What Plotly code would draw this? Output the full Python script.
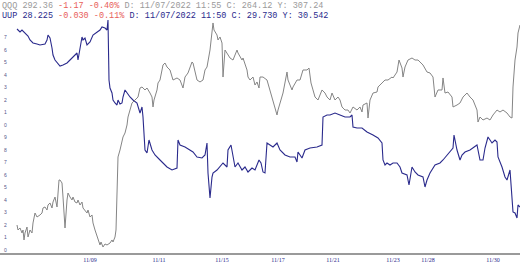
import plotly.graph_objects as go

# ---- data (bar index from 11/07 open, price) ----
uup_bar = [0, 3, 5, 8, 11, 13, 16, 20, 23, 28, 30, 31, 33, 35, 36, 38, 41, 43, 46, 50, 53, 56, 60, 61, 63, 65, 66, 68, 70, 73,
           76, 80, 83, 85, 88, 90, 91, 92, 93, 95, 96, 98, 100, 101, 103, 105, 106, 108, 110, 113, 116, 120, 123, 125, 126, 127,
           128, 130, 132, 135, 138, 143, 147, 150, 155, 160, 161, 163, 168, 173, 176, 180, 185, 188, 190, 191, 193, 195, 196, 200,
           203, 206, 210, 211, 214, 216, 218, 221, 225, 228, 231, 235, 238, 242, 244, 246, 248, 250, 253, 256, 260, 263, 268, 273,
           278, 280, 281, 285, 288, 293, 300, 305, 306, 310, 313, 318, 323, 328, 333, 335, 336, 340, 345, 350, 356, 361, 365, 366,
           368, 370, 373, 376, 380, 383, 385, 390, 392, 395, 398, 401, 406, 408, 410, 413, 418, 423, 426, 430, 433, 436, 437, 440,
           443, 445, 448, 453, 460, 463, 466, 468, 471, 475, 478, 480, 481, 485, 488, 490, 493, 495, 496, 498, 500, 501, 503]
uup_px = [29.768, 29.744, 29.760, 29.736, 29.712, 29.680, 29.656, 29.648, 29.640, 29.648, 29.680, 29.720, 29.696, 29.616,
          29.560, 29.520, 29.488, 29.472, 29.480, 29.496, 29.520, 29.544, 29.576, 29.520, 29.600, 29.704, 29.680, 29.696,
          29.640, 29.664, 29.720, 29.744, 29.760, 29.784, 29.776, 29.760, 29.840, 29.360, 29.296, 29.256, 29.200, 29.176,
          29.160, 29.200, 29.168, 29.176, 29.224, 29.280, 29.256, 29.224, 29.200, 29.176, 29.096, 29.144, 29.064, 28.880,
          28.800, 28.776, 28.880, 28.800, 28.760, 28.720, 28.688, 28.664, 28.640, 28.656, 28.880, 28.840, 28.824, 28.800,
          28.784, 28.744, 28.736, 28.760, 28.856, 28.616, 28.416, 28.584, 28.616, 28.640, 28.664, 28.696, 28.664, 28.800,
          28.840, 28.744, 28.664, 28.696, 28.640, 28.664, 28.624, 28.656, 28.640, 28.720, 28.696, 28.624, 28.616, 28.856,
          28.840, 28.824, 28.856, 28.800, 28.760, 28.744, 28.744, 28.704, 28.784, 28.736, 28.800, 28.816, 28.824, 28.840,
          29.064, 29.080, 29.080, 29.096, 29.080, 29.064, 29.064, 29.080, 28.984, 28.976, 28.976, 28.944, 28.920, 28.896,
          28.856, 28.720, 28.680, 28.696, 28.680, 28.696, 28.696, 28.664, 28.616, 28.600, 28.520, 28.664, 28.624, 28.600,
          28.584, 28.504, 28.560, 28.616, 28.680, 28.696, 28.720, 28.760, 28.784, 28.816, 28.920, 28.800, 28.720, 28.760,
          28.784, 28.800, 28.840, 28.720, 28.720, 28.816, 28.904, 28.856, 28.880, 28.864, 28.744, 28.664, 28.584, 28.560,
          28.640, 28.344, 28.304, 28.296, 28.256, 28.360, 28.344]

qqq_bar = [0, 1, 3, 5, 6, 7, 8, 10, 11, 13, 15, 16, 18, 20, 23, 25, 26, 28, 30, 31, 33, 35, 36, 38, 40, 41, 42, 43, 45, 46,
           48, 50, 51, 53, 55, 56, 58, 60, 61, 63, 65, 66, 68, 70, 71, 73, 75, 76, 78, 80, 81, 83, 84, 86, 88, 90, 93, 95, 96,
           98, 99, 100, 100.5, 101, 103, 105, 106, 108, 110, 111, 113, 115, 118, 121, 123, 125, 128, 130, 133, 135, 136, 137,
           140, 141, 143, 145, 146, 148, 150, 153, 155, 156, 160, 163, 166, 168, 171, 175, 176, 178, 180, 183, 186, 188, 190,
           193, 195, 196, 197, 200, 201, 203, 205, 206, 208, 210, 213, 216, 220, 221, 225, 226, 230, 231, 233, 236, 238, 240,
           242, 243, 246, 250, 253, 256, 260, 261, 263, 266, 270, 271, 275, 276, 280, 283, 286, 290, 292, 294, 296, 298, 301,
           305, 308, 310, 313, 315, 318, 321, 323, 325, 328, 331, 333, 336, 340, 343, 345, 346, 350, 351, 353, 356, 360, 361,
           365, 368, 371, 375, 376, 380, 382, 385, 386, 388, 391, 395, 398, 401, 406, 410, 413, 416, 418, 421, 425, 426, 428,
           431, 435, 436, 440, 443, 446, 450, 453, 456, 460, 461, 463, 466, 470, 473, 476, 480, 483, 486, 490, 493, 495, 496,
           498, 500, 501, 503]
qqq_px = [264.84, 264.15, 264.43, 263.74, 264.15, 262.78, 263.74, 264.56, 263.19, 264.15, 263.74, 265.12, 266.49, 265.94,
          266.22, 266.49, 267.18, 267.32, 266.90, 267.59, 267.87, 267.18, 268.00, 268.69, 267.32, 269.66, 271.03, 271.03,
          270.62, 268.69, 264.43, 268.28, 269.24, 268.69, 268.28, 268.69, 268.00, 267.87, 268.28, 267.59, 268.00, 267.18,
          266.90, 266.49, 266.90, 265.94, 266.22, 265.12, 264.15, 263.19, 262.78, 262.09, 262.50, 261.81, 262.23, 262.09,
          262.36, 262.78, 262.50, 263.19, 264.15, 269.66, 273.37, 274.20, 275.16, 276.54, 276.95, 277.50, 278.60, 279.70,
          280.66, 281.63, 282.04, 282.45, 283.69, 283.83, 283.42, 283.69, 283.00, 282.45, 281.08, 282.04, 283.42, 284.38,
          284.79, 286.17, 286.86, 287.13, 286.58, 286.17, 285.07, 284.79, 285.07, 284.79, 283.69, 285.20, 285.76, 287.27,
          287.13, 285.89, 284.79, 284.52, 284.79, 286.17, 286.58, 288.92, 291.26, 292.64, 291.67, 290.98, 290.30, 290.71,
          289.88, 285.20, 288.92, 288.51, 287.82, 287.54, 288.92, 288.51, 287.54, 287.82, 286.17, 285.20, 284.79, 285.20,
          284.10, 284.52, 283.69, 285.20, 285.20, 284.79, 283.42, 282.04, 279.98, 280.66, 281.63, 283.00, 285.89, 284.79,
          283.42, 283.83, 284.79, 284.79, 286.17, 286.17, 286.44, 284.38, 283.42, 282.45, 282.04, 283.42, 283.00, 282.45,
          282.04, 283.00, 282.04, 282.45, 282.04, 281.08, 280.66, 280.66, 280.25, 281.08, 280.66, 281.08, 280.39, 281.35,
          281.63, 279.56, 282.04, 283.00, 283.14, 283.83, 284.38, 284.79, 284.79, 285.20, 285.07, 285.89, 287.54, 286.44,
          285.20, 286.58, 287.54, 287.82, 287.54, 287.54, 286.86, 285.89, 285.76, 285.20, 282.45, 283.42, 283.42, 285.07,
          283.00, 283.14, 282.45, 281.08, 281.35, 281.63, 282.45, 283.00, 282.45, 282.04, 280.66, 279.01, 279.70, 279.29,
          279.56, 279.29, 279.98, 280.66, 280.39, 280.66, 280.25, 279.70, 279.56, 283.83, 287.54, 289.33, 291.26, 292.36]

date_ticks = [73, 142, 205, 261, 316, 376, 411, 476]
date_labels = ["11/09", "11/11", "11/15", "11/17", "11/21", "11/23", "11/28", "11/30"]

uup_ticks = [28.0 + 0.1 * i for i in range(18)]
uup_tick_labels = ["0", "1", "2", "3", "4", "5", "6", "7", "8", "9", "0", "1", "2", "3", "4", "5", "6", "7"]

header_qqq = ("QQQ 292.36 ", "-1.17 -0.40%", " D: 11/07/2022 11:55 C: 264.12 Y: 307.24")
header_uup = ("UUP 28.225 ", "-0.030 -0.11%", " D: 11/07/2022 11:50 C: 29.730 Y: 30.542")

GRAY = "#858585"
NAVY = "#2a2a8c"
RED = "#e8605a"

fig = go.Figure()
fig.add_trace(go.Scatter(x=qqq_bar, y=qqq_px, mode="lines", yaxis="y2",
                         line=dict(color=GRAY, width=1), hoverinfo="skip", showlegend=False))
fig.add_trace(go.Scatter(x=uup_bar, y=uup_px, mode="lines", yaxis="y",
                         line=dict(color=NAVY, width=1.1), hoverinfo="skip", showlegend=False))

H = 272
T, B = 0, 19
ph = H - T - B


def ypaper(px):
    return 1 - (px - T) / ph


fig.add_annotation(xref="paper", yref="paper", x=0.0, y=ypaper(6.5), xanchor="left", yanchor="middle",
                   showarrow=False,
                   text=(f"<span style='color:#9a9a9a'>{header_qqq[0]}</span>"
                         f"<span style='color:{RED}'>{header_qqq[1]}</span>"
                         f"<span style='color:#9a9a9a'>{header_qqq[2]}</span>"),
                   font=dict(family="Liberation Mono", size=8.5, color="#9a9a9a"))
fig.add_annotation(xref="paper", yref="paper", x=0.0, y=ypaper(16.5), xanchor="left", yanchor="middle",
                   showarrow=False,
                   text=(f"<span style='color:{NAVY}'>{header_uup[0]}</span>"
                         f"<span style='color:{RED}'>{header_uup[1]}</span>"
                         f"<span style='color:{NAVY}'>{header_uup[2]}</span>"),
                   font=dict(family="Liberation Mono", size=8.5, color=NAVY))

fig.update_layout(
    width=520, height=H,
    margin=dict(l=0, r=0, t=T, b=B, pad=0),
    paper_bgcolor="white", plot_bgcolor="white",
    xaxis=dict(range=[-17, 503], showgrid=False, zeroline=False,
               showline=True, linecolor="#9a9a9a", linewidth=2,
               tickmode="array", tickvals=date_ticks, ticktext=date_labels, ticks="",
               tickfont=dict(family="Liberation Serif", size=6, color=NAVY)),
    yaxis=dict(range=[30.0 - 0.008 * ph, 30.0], showgrid=False, zeroline=False, showline=False,
               tickmode="array", tickvals=uup_ticks, ticktext=uup_tick_labels, ticks="",
               ticklabelposition="inside", ticklabelstandoff=1,
               tickfont=dict(family="Liberation Sans", size=5, color="#555588")),
    yaxis2=dict(range=[295.8 - 0.1376 * ph, 295.8], overlaying="y", side="right", visible=False),
)

fig.write_html("out.html")
